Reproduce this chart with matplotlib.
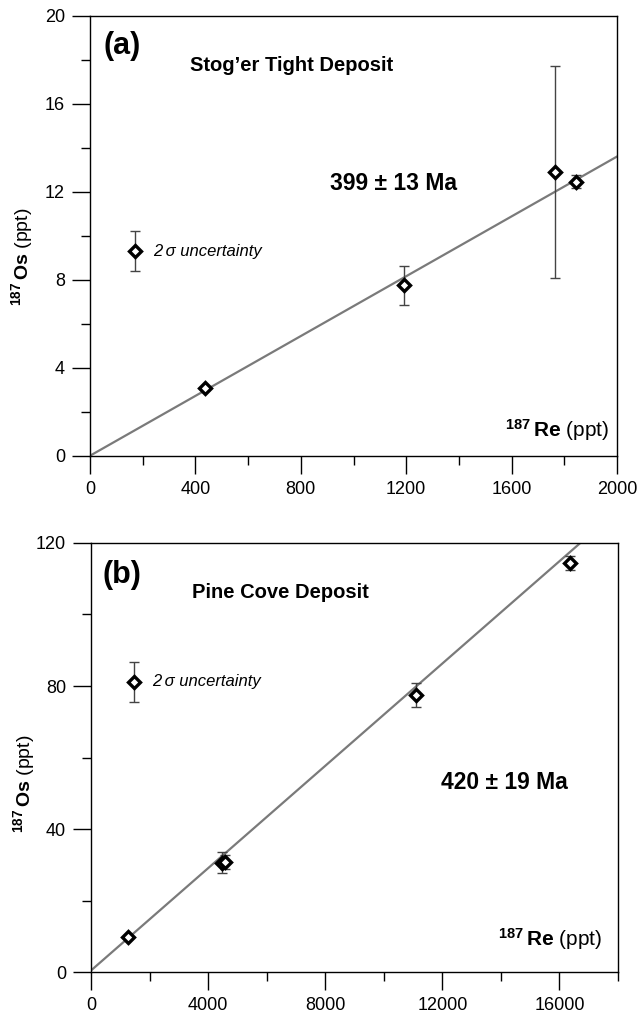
import numpy as np
import matplotlib
matplotlib.use('Agg')
import matplotlib.pyplot as plt
from matplotlib.ticker import MultipleLocator

plt.rcParams['font.family'] = ['Liberation Sans', 'DejaVu Sans']
plt.rcParams['mathtext.fontset'] = 'custom'
plt.rcParams['mathtext.rm'] = 'Liberation Sans'
plt.rcParams['mathtext.bf'] = 'Liberation Sans:bold'
plt.rcParams['mathtext.it'] = 'Liberation Sans:italic'

# (a) Stog'er Tight
re_a = [438, 1192, 1766, 1843]
os_a = [3.06, 7.74, 12.90, 12.46]
err_a = [0.08, 0.9, 4.82, 0.31]
leg_a = (170, 9.3, 0.9)          # x, y, 2 sigma for the uncertainty key
fit_a = (0.0, 0.0068)           # intercept, slope
xlim_a, ylim_a = 2000, 20

# (b) Pine Cove
re_b = [1277, 4477, 4574, 11107, 16375]
os_b = [9.79, 30.58, 30.77, 77.48, 114.4]
err_b = [0.5, 2.9, 1.95, 3.27, 1.95]
leg_b = (1472, 81.2, 5.6)
fit_b = (0.5, 0.00715)
xlim_b, ylim_b = 18000, 120

fig = plt.figure(figsize=(6.41, 10.15), dpi=100)
ax_a = fig.add_axes([0.1404, 0.551, 0.8222, 0.4335])
ax_b = fig.add_axes([0.1420, 0.0421, 0.8222, 0.4230])


def panel(ax, xs, ys, es, leg, fit, xmax, ymax, xmaj, ymaj, letter, title,
          age, age_pos, xl_pos, yl_y):
    xx = np.array([0, xmax])
    ax.plot(xx, fit[0] + fit[1] * xx, color='#7a7a7a', lw=1.6, zorder=1)
    ax.errorbar(xs + [leg[0]], ys + [leg[1]], yerr=es + [leg[2]], fmt='none',
                ecolor='#444444', elinewidth=1.0, capsize=3.5, capthick=1.0,
                zorder=2)
    ax.plot(xs + [leg[0]], ys + [leg[1]], 'D', mfc='white', mec='black',
            ms=6.3, mew=2.4, zorder=3, clip_on=False)
    ax.set_xlim(0, xmax)
    ax.set_ylim(0, ymax)
    ax.xaxis.set_major_locator(MultipleLocator(xmaj))
    ax.xaxis.set_minor_locator(MultipleLocator(xmaj / 2))
    ax.yaxis.set_major_locator(MultipleLocator(ymaj))
    ax.yaxis.set_minor_locator(MultipleLocator(ymaj / 2))
    ax.tick_params(which='major', direction='out', length=13, width=1,
                   labelsize=13, pad=5)
    ax.tick_params(which='minor', direction='out', length=6.5, width=1)
    for s in ax.spines.values():
        s.set_linewidth(1.0)
    ax.text(letter[1], letter[2], letter[0], transform=ax.transAxes,
            fontsize=22, fontweight='bold', va='center', ha='left')
    ax.text(title[1], title[2], title[0], transform=ax.transAxes,
            fontsize=14.5, fontweight='bold', va='center', ha='left')
    ax.text(age_pos[0], age_pos[1], age, transform=ax.transAxes,
            fontsize=16.5, fontweight='bold', va='center', ha='left')
    ax.text(leg[0] + 0.035 * xmax, leg[1], '2\u2009\u03c3 uncertainty',
            fontsize=12, style='italic', va='center', ha='left')
    ax.text(xl_pos[0], xl_pos[1], r'$^{\mathbf{187}}\,\mathbf{Re}$ (ppt)',
            transform=ax.transAxes, fontsize=15, ha='right', va='baseline')
    ax.text(-0.128, yl_y, r'$^{\mathbf{187}}\,\mathbf{Os}$ (ppt)',
            transform=ax.transAxes, fontsize=14, rotation=90,
            ha='center', va='center')


panel(ax_a, re_a, os_a, err_a, leg_a, fit_a, xlim_a, ylim_a, 400, 4,
      ('(a)', 0.025, 0.932), ('Stog\u2019er Tight Deposit', 0.19, 0.888),
      '399 \u00b1 13 Ma', (0.456, 0.619), (0.985, 0.043), 0.453)
panel(ax_b, re_b, os_b, err_b, leg_b, fit_b, xlim_b, ylim_b, 4000, 40,
      ('(b)', 0.022, 0.925), ('Pine Cove Deposit', 0.191, 0.885),
      '420 \u00b1 19 Ma', (0.664, 0.441), (0.97, 0.061), 0.438)

fig.savefig('out.png', dpi=100)
